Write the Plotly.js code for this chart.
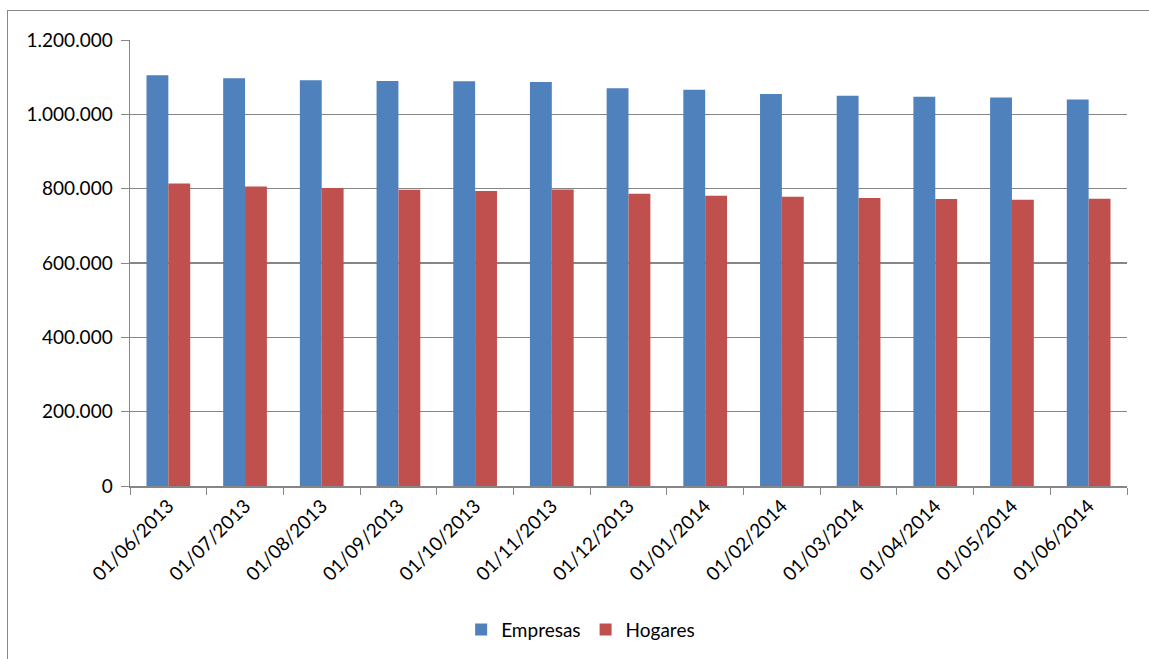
<!DOCTYPE html>
<html>
<head>
<meta charset="utf-8">
<script src="https://cdn.plot.ly/plotly-3.0.1.min.js"></script>
<style>
  html, body { margin: 0; padding: 0; background: #ffffff; overflow: hidden; }
  #frame { position: absolute; left: 7px; top: 10px; width: 1160px; height: 660px; border: 1px solid #878787; box-sizing: border-box; }
  #chart { width: 100%; height: 100%; }
</style>
</head>
<body>
<div id="frame"><div id="chart"></div></div>
<script>
const categories = ["01/06/2013","01/07/2013","01/08/2013","01/09/2013","01/10/2013","01/11/2013","01/12/2013","01/01/2014","01/02/2014","01/03/2014","01/04/2014","01/05/2014","01/06/2014"];
const empresas = [1105000, 1097000, 1092000, 1090000, 1089000, 1087000, 1070000, 1066000, 1055000, 1050000, 1047000, 1045000, 1040000];
const hogares = [814000, 806000, 802000, 797000, 794000, 798000, 786000, 781000, 778000, 775000, 772000, 770000, 773000];
const yTicks = [0, 200000, 400000, 600000, 800000, 1000000, 1200000];

const fontFam = "Lato, 'Open Sans', sans-serif";
const traces = [
  { type: "bar", name: "Empresas", x: categories, y: empresas,
    marker: { color: "#4F81BD", line: { width: 0 } }, hoverinfo: "x+y" },
  { type: "bar", name: "Hogares", x: categories, y: hogares,
    marker: { color: "#C0504D", line: { width: 0 } }, hoverinfo: "x+y" }
];
const layout = {
  width: 1158, height: 658,
  margin: { l: 122, r: 39, t: 29, b: 183, pad: 0 },
  paper_bgcolor: "#ffffff", plot_bgcolor: "#ffffff",
  separators: ",.",
  font: { family: fontFam, size: 19, color: "#000000" },
  barmode: "group", bargap: 0.43, bargroupgap: 0,
  showlegend: true,
  legend: { orientation: "h", x: 0.452, xanchor: "center", y: -0.322, yanchor: "middle",
            font: { family: fontFam, size: 19, color: "#000000" }, traceorder: "normal",
            itemwidth: 30 },
  xaxis: { type: "category", tickangle: -45, tickson: "boundaries", ticks: "outside",
           ticklen: 7, tickcolor: "#868686", showline: true, linecolor: "#868686", linewidth: 1.5,
           showgrid: false, tickfont: { family: fontFam, size: 19, color: "#000000" }, automargin: false },
  yaxis: { range: [0, 1200000], tickvals: yTicks, tickformat: ",d", ticks: "outside", ticklen: 8,
           tickcolor: "#868686", showline: true, linecolor: "#868686", linewidth: 1.5,
           showgrid: true, gridcolor: "#868686", gridwidth: 1.5, zeroline: false,
           ticklabelstandoff: 4,
           tickfont: { family: fontFam, size: 19, color: "#000000" }, automargin: false }
};
Plotly.newPlot("chart", traces, layout, { displayModeBar: false, staticPlot: true });
</script>
</body>
</html>
